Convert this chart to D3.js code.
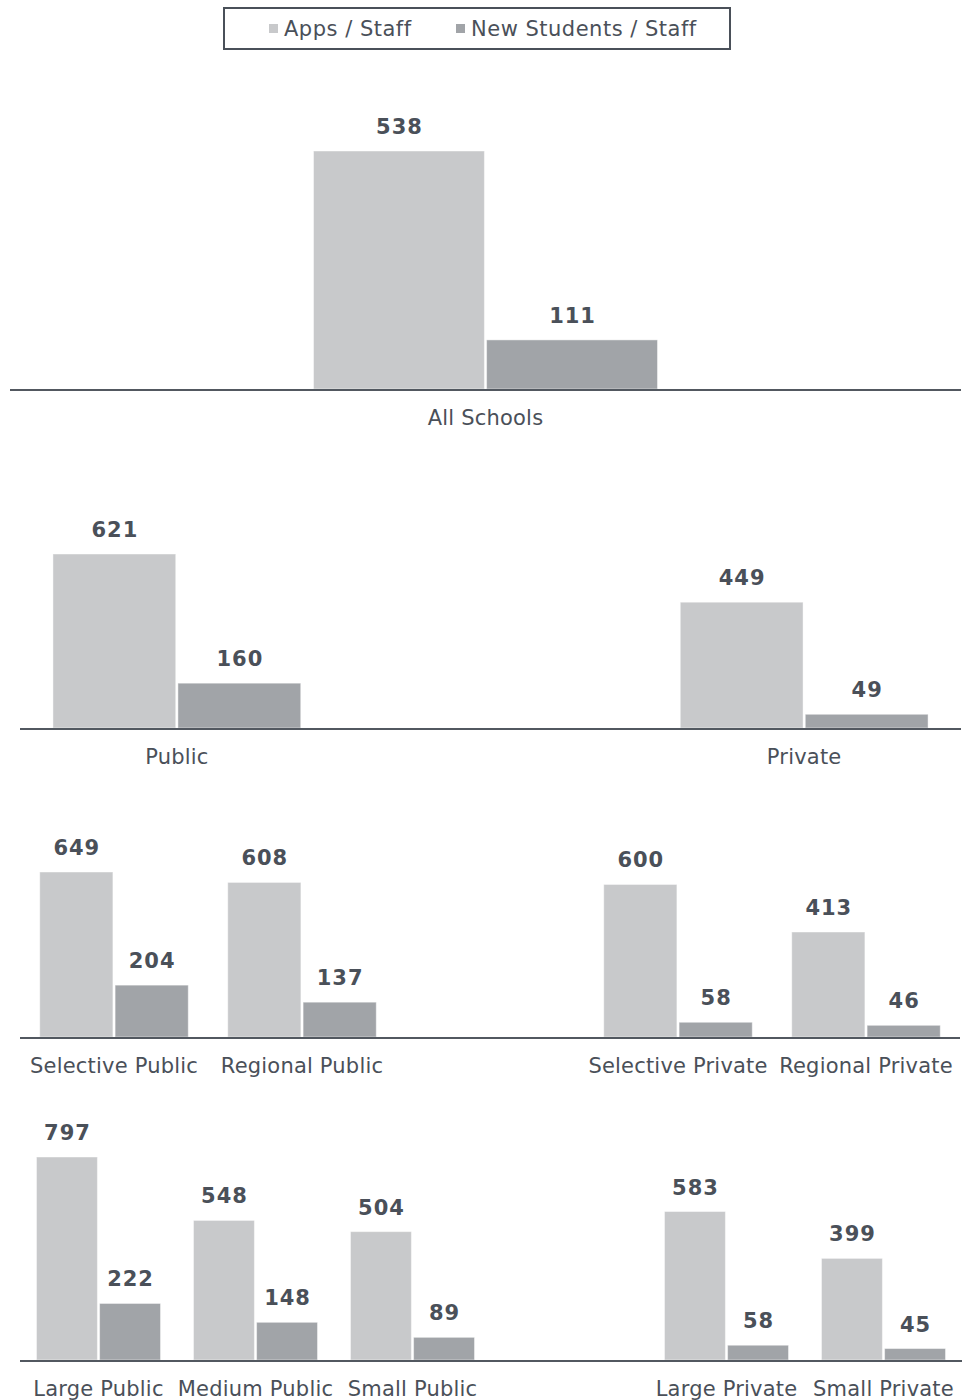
<!DOCTYPE html>
<html>
<head>
<meta charset="utf-8">
<script src="https://cdn.jsdelivr.net/npm/d3@7/dist/d3.min.js"></script>
<style>
  html, body { margin: 0; padding: 0; background: #ffffff; }
  svg { display: block; }
</style>
</head>
<body>
<div id="chart"></div>
<script>
// Series names (legend order)
const seriesNames = ["Apps / Staff", "New Students / Staff"];

// All schools
const allCats = ["All Schools"];
const allApps = [538];
const allNew = [111];

// By sector
const sectorCats = ["Public", "Private"];
const sectorApps = [621, 449];
const sectorNew = [160, 49];

// By type
const typeCats = ["Selective Public", "Regional Public", "Selective Private", "Regional Private"];
const typeApps = [649, 608, 600, 413];
const typeNew = [204, 137, 58, 46];

// By size
const sizeCats = ["Large Public", "Medium Public", "Small Public", "Large Private", "Small Private"];
const sizeApps = [797, 548, 504, 583, 399];
const sizeNew = [222, 148, 89, 58, 45];

const W = 966, H = 1400;
const colors = ["#c8c9cb", "#a1a4a8"];
const textColor = "#4a5059";
const axisColor = "#525860";
const font = "'DejaVu Sans', Verdana, sans-serif";

// Panel layout: slot order (null = empty slot), horizontal extent, baseline and bar height of the max value
const panels = [
  { cats: allCats, apps: allApps, news: allNew, slots: ["All Schools"], left: 10, right: 961, base: 389, hMax: 238, gmax: 344 },
  { cats: sectorCats, apps: sectorApps, news: sectorNew, slots: ["Public", null, "Private"], left: 20, right: 961, base: 728, hMax: 174, gmax: 344 },
  { cats: typeCats, apps: typeApps, news: typeNew, slots: ["Selective Public", "Regional Public", null, "Selective Private", "Regional Private"], left: 20, right: 960, base: 1037, hMax: 165, gmax: 344 },
  { cats: sizeCats, apps: sizeApps, news: sizeNew, slots: ["Large Public", "Medium Public", "Small Public", null, "Large Private", "Small Private"], left: 20, right: 962, base: 1360, hMax: 203, gmax: 344 }
];

const svg = d3.select("#chart").append("svg")
  .attr("width", W).attr("height", H)
  .style("font-family", font);

// Legend
const legend = svg.append("g");
legend.append("rect")
  .attr("x", 224).attr("y", 8).attr("width", 506).attr("height", 41)
  .attr("fill", "#fff").attr("stroke", textColor).attr("stroke-width", 2);
const legendX = [269, 456];
seriesNames.forEach((name, i) => {
  legend.append("rect")
    .attr("x", legendX[i]).attr("y", 24).attr("width", 9).attr("height", 9)
    .attr("fill", colors[i]);
  legend.append("text")
    .attr("x", legendX[i] + 15).attr("y", 36)
    .attr("font-size", 21).attr("letter-spacing", 0.5).attr("fill", textColor)
    .text(name);
});

panels.forEach(p => {
  const g = svg.append("g");
  const slotKeys = p.slots.map((s, i) => s === null ? "__empty" + i : s);
  const x0 = d3.scaleBand().domain(slotKeys).range([p.left, p.right]).padding(0);
  const gw = Math.min(x0.bandwidth() * 0.79, p.gmax);
  const gap = 2.2;
  const step = (gw + gap) / 2;
  const x1 = d3.scaleBand().domain([0, 1]).range([0, gw]).paddingInner(gap / step).paddingOuter(0);
  const vmax = d3.max(p.apps.concat(p.news));
  const y = d3.scaleLinear().domain([0, vmax]).range([p.base, p.base - p.hMax]);

  const rows = p.cats.map((c, i) => ({ cat: c, vals: [p.apps[i], p.news[i]] }));

  const groups = g.selectAll("g.grp").data(rows).join("g")
    .attr("class", "grp")
    .attr("transform", d => `translate(${x0(d.cat) + (x0.bandwidth() - gw) / 2},0)`);

  groups.selectAll("rect").data(d => d.vals.map((v, i) => ({ v, i }))).join("rect")
    .attr("x", d => x1(d.i))
    .attr("y", d => y(d.v))
    .attr("width", x1.bandwidth())
    .attr("height", d => y(0) - y(d.v))
    .attr("fill", d => colors[d.i])
    .attr("stroke", "#ffffff").attr("stroke-opacity", 0.45).attr("stroke-width", 1);

  groups.selectAll("text.val").data(d => d.vals.map((v, i) => ({ v, i }))).join("text")
    .attr("class", "val")
    .attr("x", d => x1(d.i) + x1.bandwidth() / 2 + 0.5)
    .attr("y", d => y(d.v) - 17)
    .attr("text-anchor", "middle")
    .attr("font-size", 21).attr("font-weight", "bold").attr("letter-spacing", 1)
    .attr("fill", textColor)
    .text(d => d.v);

  // Baseline axis with category labels
  const axis = d3.axisBottom(x0).tickSize(0).tickPadding(0)
    .tickFormat(d => d.startsWith("__empty") ? "" : d);
  const ax = g.append("g").attr("transform", `translate(0,${p.base + 1})`).call(axis);
  ax.select(".domain").attr("stroke", axisColor).attr("stroke-width", 2)
    .attr("d", `M${p.left},0H${p.right}`);
  ax.selectAll(".tick text")
    .attr("y", 35).attr("dy", 0)
    .attr("font-size", 21).attr("font-family", font).attr("letter-spacing", 0.2)
    .attr("fill", textColor);
});
</script>
</body>
</html>
